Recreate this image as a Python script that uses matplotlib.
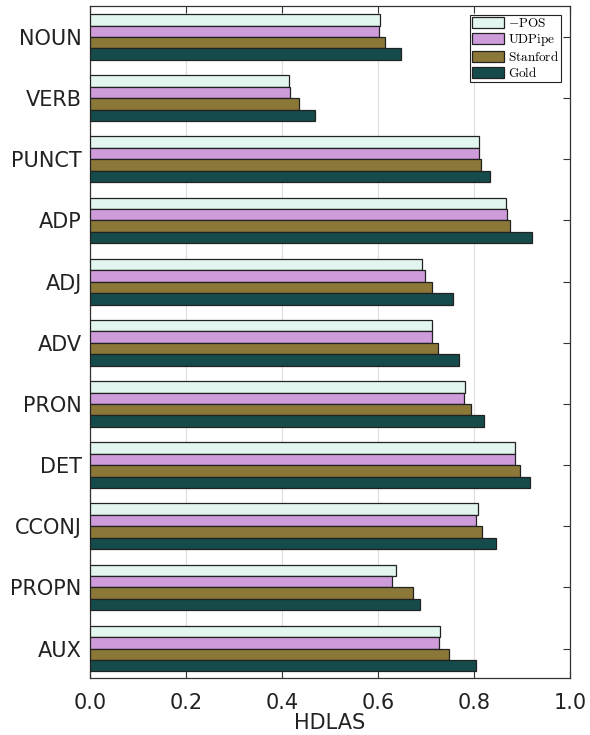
import matplotlib.pyplot as plt
import numpy as np

categories = ["NOUN", "VERB", "PUNCT", "ADP", "ADJ", "ADV", "PRON", "DET", "CCONJ", "PROPN", "AUX"]
series_names = ["\u2013POS", "UDPipe", "Stanford", "Gold"]
no_pos   = [0.604, 0.415, 0.811, 0.867, 0.691, 0.713, 0.782, 0.886, 0.809, 0.638, 0.730]
udpipe   = [0.602, 0.417, 0.811, 0.869, 0.697, 0.713, 0.780, 0.885, 0.805, 0.630, 0.727]
stanford = [0.614, 0.435, 0.815, 0.875, 0.712, 0.726, 0.794, 0.896, 0.817, 0.672, 0.749]
gold     = [0.647, 0.468, 0.833, 0.920, 0.757, 0.768, 0.821, 0.917, 0.846, 0.688, 0.804]
colors = ["#e2f5ef", "#cf9cdb", "#8b7838", "#154b4b"]

plt.rcParams['mathtext.fontset'] = 'cm'

fig = plt.figure(figsize=(5.9, 7.35), dpi=100)
ax = fig.add_axes([0.1525, 0.078, 0.8135, 0.9145])

y = np.arange(len(categories))
h = 0.187
for k, (vals, name) in enumerate(zip([no_pos, udpipe, stanford, gold], series_names)):
    lab = r"$\mathrm{-POS}$" if k == 0 else r"$\mathrm{%s}$" % name
    ax.barh(y + (k - 1.5) * h, vals, height=h, color=colors[k],
            edgecolor="#222222", linewidth=0.9, label=lab, zorder=3)

ax.set_xlim(0, 1.0)
ax.set_ylim(10.475, -0.515)
ax.set_yticks(y)
ax.set_yticklabels(categories, fontsize=15, color="#222222")
ax.set_xticks([0, 0.2, 0.4, 0.6, 0.8, 1.0])
ax.set_xticklabels(["0.0", "0.2", "0.4", "0.6", "0.8", "1.0"], fontsize=15, color="#222222")
ax.set_xlabel("HDLAS", fontsize=15, color="#222222", labelpad=0)
ax.tick_params(axis="both", direction="in", length=5, width=0.8, color="#333333",
               top=True, right=True, left=False)
ax.tick_params(axis="y", pad=6)
ax.tick_params(axis="x", pad=11)
ax.xaxis.grid(True, color="#dddddd", linewidth=0.8, zorder=0)
ax.set_axisbelow(True)
for s in ax.spines.values():
    s.set_color("#333333")
    s.set_linewidth(0.9)

leg = ax.legend(loc="upper right", fontsize=9.5, frameon=True, fancybox=False,
                edgecolor="#222222", framealpha=1, borderpad=0.15, labelspacing=0.15,
                handlelength=2.4, handleheight=0.95, handletextpad=0.3,
                borderaxespad=0.7)
leg.get_frame().set_linewidth(0.8)

fig.savefig("out.png", dpi=100)
